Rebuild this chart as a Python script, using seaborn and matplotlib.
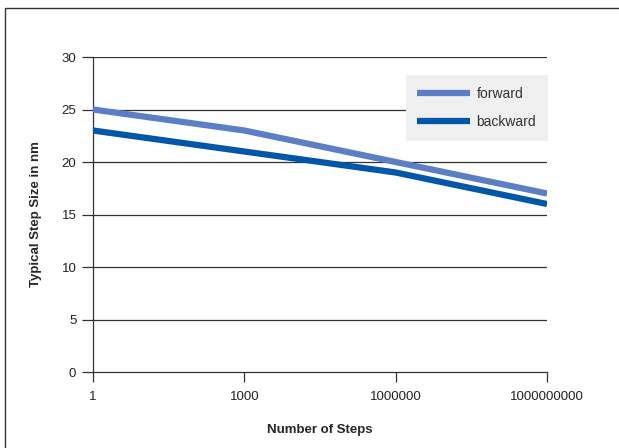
import pandas as pd
import matplotlib
matplotlib.use("Agg")
import matplotlib.pyplot as plt
import seaborn as sns
from matplotlib.patches import Rectangle

# datos
pasos = [1, 1000, 1000000, 1000000000]
etiquetas_x = ["1", "1000", "1000000", "1000000000"]
forward = [25, 23, 20, 17]
backward = [23, 21, 19, 16]

df = pd.DataFrame({
    "pasos": pasos * 2,
    "valor": forward + backward,
    "serie": ["forward"] * len(pasos) + ["backward"] * len(pasos),
})

sns.set_style("white")
plt.rcParams["font.family"] = ["Liberation Sans", "DejaVu Sans"]
plt.rcParams["lines.solid_capstyle"] = "butt"

fig = plt.figure(figsize=(6.19, 4.48), dpi=100)
ax = fig.add_axes([93 / 619, 1 - 372 / 448, 454 / 619, 315 / 448])

sns.lineplot(data=df, x="pasos", y="valor", hue="serie",
             palette={"forward": "#5b7ec4", "backward": "#0057a8"},
             linewidth=4.5, ax=ax, zorder=3)
for ln in ax.get_lines():
    ln.set_solid_capstyle("butt")

ax.set_xscale("log")
ax.set_xlim(1, 1e9)
ax.set_xticks(pasos)
ax.set_xticklabels(etiquetas_x)
ax.minorticks_off()
ax.set_ylim(0, 30)
ax.set_yticks(range(0, 31, 5))

for y in range(5, 31, 5):
    ax.axhline(y, color="#333333", lw=0.9, zorder=1)

for s in ["top", "right"]:
    ax.spines[s].set_visible(False)
for s in ["left", "bottom"]:
    ax.spines[s].set_color("#333333")
    ax.spines[s].set_linewidth(0.9)

ax.tick_params(axis="both", direction="out", length=8, width=0.9,
               left=True, bottom=True,
               color="#333333", labelsize=9.5, labelcolor="#222222", pad=4)
ax.tick_params(axis="x", pad=6, length=7.5)

ax.set_xlabel("Number of Steps", fontsize=9.5, fontweight="bold", labelpad=15)
ax.set_ylabel("Typical Step Size in nm", fontsize=9.5, fontweight="bold", labelpad=14)

leg = ax.legend(loc="upper right", bbox_to_anchor=(1.002, 0.943), fontsize=10,
                frameon=True, fancybox=False, framealpha=1, handlelength=3.8,
                borderpad=0.85, labelspacing=1.05, handletextpad=0.45,
                borderaxespad=0)
leg.get_frame().set_facecolor("#f0f0f0")
leg.get_frame().set_edgecolor("none")
leg.set_zorder(10)
for h in leg.get_lines():
    h.set_solid_capstyle("butt")
for t in leg.get_texts():
    t.set_color("#333333")

# marco de la figura
fig.patches.append(Rectangle((5 / 619, -0.1), 1.2, 1 - 8 / 448 + 0.1,
                             transform=fig.transFigure, fill=False,
                             edgecolor="#333333", lw=1.0, clip_on=False))

fig.savefig("out.png", dpi=100)
